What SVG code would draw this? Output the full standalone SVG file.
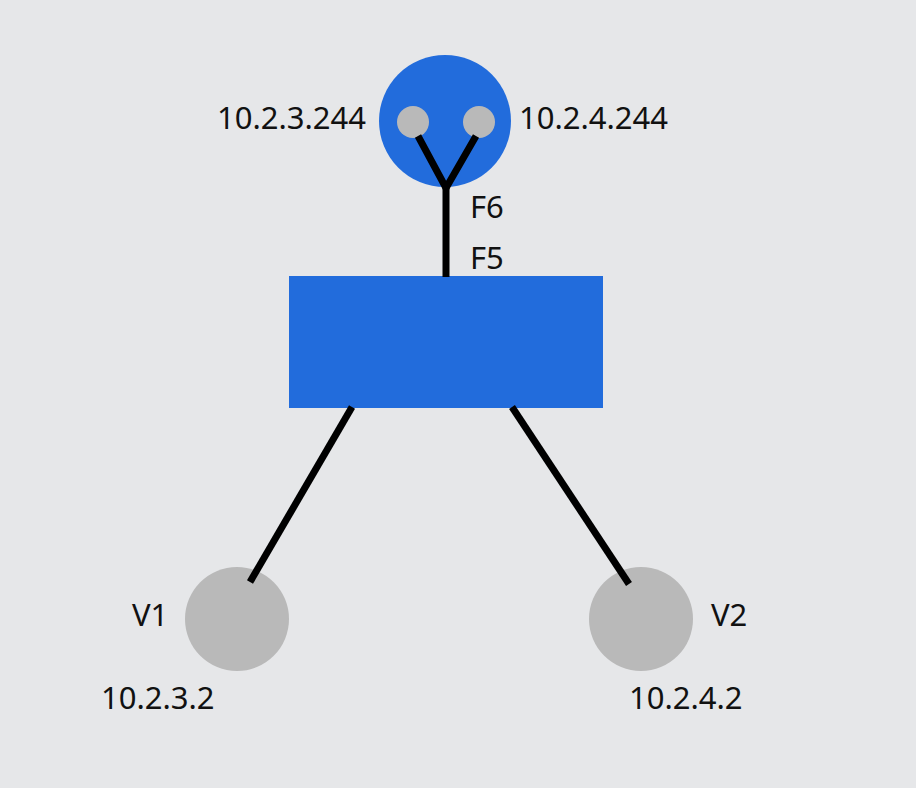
<svg xmlns="http://www.w3.org/2000/svg" width="916" height="788" viewBox="0 0 916 788">
<style>
.lbl{font-family:"Noto Sans","Open Sans",sans-serif;font-size:31px;fill:#111}
.blue{fill:#226cdc}
.grey{fill:#b9b9b9}
.wire{stroke:#000;stroke-width:7;fill:none}
</style>
<rect width="916" height="788" fill="#e6e7e9"/>
<g id="router">
<circle class="blue" cx="445" cy="121" r="66"/>
</g>
<g id="switch">
<rect class="blue" x="289" y="276" width="314" height="132"/>
</g>
<g id="port1"><circle class="grey" cx="413" cy="122" r="16"/></g>
<g id="port2"><circle class="grey" cx="479" cy="122" r="16"/></g>
<g id="V1"><circle class="grey" cx="237" cy="619" r="52"/></g>
<g id="V2"><circle class="grey" cx="641" cy="619" r="52"/></g>
<g id="connectors">
<polyline class="wire" points="418,136 446,188 476,136"/>
<line class="wire" x1="446" y1="186" x2="446" y2="277"/>
<line class="wire" x1="352" y1="407" x2="250" y2="582"/>
<line class="wire" x1="512" y1="407" x2="629" y2="584"/>
</g>
<g id="labels">
<text class="lbl" x="217" y="129">10.2.3.244</text>
<text class="lbl" x="519" y="129">10.2.4.244</text>
<text class="lbl" x="470" y="218">F6</text>
<text class="lbl" x="470" y="269">F5</text>
<text class="lbl" x="132" y="626">V1</text>
<text class="lbl" x="101" y="709">10.2.3.2</text>
<text class="lbl" x="711" y="626">V2</text>
<text class="lbl" x="629" y="709">10.2.4.2</text>
</g>
</svg>
